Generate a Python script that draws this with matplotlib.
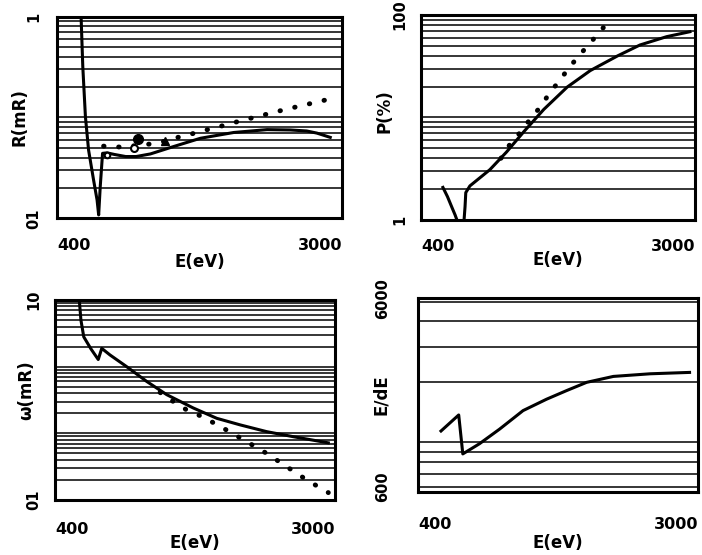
import numpy as np
import matplotlib.pyplot as plt
from matplotlib.ticker import LogLocator, NullFormatter, NullLocator, FixedLocator, FixedFormatter

plt.rcParams['font.family'] = 'DejaVu Sans'
plt.rcParams['font.weight'] = 'bold'

# --- datos ---
# R (mR)
r_solid_E = [474, 480, 489, 500, 518, 531, 537, 543, 552, 570, 600, 650, 700, 774, 912,
             1102, 1395, 1766, 2083, 2337, 2513, 2761]
r_solid_R = [1.05, 0.32, 0.102, 0.0476, 0.024, 0.0152, 0.0108, 0.0206, 0.0441, 0.0446, 0.043,
             0.041, 0.041, 0.0435, 0.0515, 0.0622, 0.071, 0.0758, 0.0752, 0.0735, 0.070, 0.0635]
r_dot_E = [556, 620, 720, 820, 930, 1024, 1125, 1240, 1360, 1568, 1985, 2667]
r_dot_R = [0.052, 0.051, 0.053, 0.056, 0.063, 0.068, 0.074, 0.080, 0.087, 0.098, 0.119, 0.149]
r_pts_E = [568, 687, 710, 859]
r_pts_R = [0.0425, 0.0495, 0.0608, 0.058]

# P (%)
p_solid_E = [470, 486, 501, 514, 521, 528, 545, 549, 553, 556, 573, 664, 750, 853, 987,
             1172, 1389, 1700, 2002, 2437, 2890]
p_solid_P = [2.08, 1.69, 1.35, 1.12, 1.0, 0.85, 0.85, 1.0, 1.35, 1.85, 2.15, 3.1, 4.6, 7.3, 12,
             19.8, 28.7, 40, 51, 61.5, 68.7]
p_dot_E = [720, 773, 843, 896, 963, 1037, 1102, 1172, 1245, 1340, 1460, 1571]
p_dot_P = [4.0, 5.6, 7.55, 9.8, 12.7, 17.9, 22.3, 29, 36.4, 47.3, 63.8, 83]

# omega (mR)
w_solid_E = [476, 482, 492, 518, 546, 560, 594, 670, 774, 894, 1082, 1281, 1515, 1835, 2224, 2859]
w_solid_W = [10.5, 5.0, 2.8, 1.85, 1.28, 1.88, 1.5, 1.0, 0.6, 0.38, 0.24, 0.168, 0.134, 0.106,
             0.089, 0.072]
w_dot_E = [852, 937, 1031, 1163, 1375, 1589, 1835, 2119, 2448, 2859]
w_dot_W = [0.41, 0.30, 0.225, 0.175, 0.112, 0.075, 0.050, 0.0316, 0.020, 0.0129]

# E/dE
res_E = [471, 535, 551, 621, 718, 850, 1006, 1162, 1343, 1628, 2121, 2817]
res_Y = [1140, 1370, 877, 985, 1165, 1440, 1640, 1810, 1990, 2130, 2195, 2230]

W, H = 702, 555
fig = plt.figure(figsize=(W / 100, H / 100), dpi=100)


def make_ax(l, r, t, b):
    return fig.add_axes([l / W, 1 - b / H, (r - l) / W, (b - t) / H])


def setup(ax, ylim, yticks, ylabels, ylabel, ylab_xy, ypad, xpad, xlab_y):
    ax.set_xscale('log')
    ax.set_yscale('log')
    ax.set_xlim(400, 3000)
    ax.set_ylim(*ylim)
    ax.set_axisbelow(True)
    ax.yaxis.set_minor_locator(LogLocator(base=10, subs=np.arange(1, 10)))
    ax.yaxis.set_minor_formatter(NullFormatter())
    ax.yaxis.set_major_locator(FixedLocator(yticks))
    ax.yaxis.set_major_formatter(FixedFormatter(ylabels))
    ax.xaxis.set_major_locator(FixedLocator([400, 3000]))
    ax.xaxis.set_major_formatter(FixedFormatter(['400', '3000']))
    ax.xaxis.set_minor_locator(NullLocator())
    ax.grid(True, which='both', axis='y', color='black', lw=1.1)
    ax.tick_params(which='both', length=0)
    ax.tick_params(axis='x', pad=xpad, labelsize=11.5)
    ax.tick_params(axis='y', labelrotation=90, pad=ypad, labelsize=10.5)
    for lab, ha in zip(ax.get_xticklabels(), ['left', 'right']):
        lab.set_horizontalalignment(ha)
    for lab in ax.get_yticklabels():
        lab.set_verticalalignment('center')
    for s in ax.spines.values():
        s.set_linewidth(2.2)
    ax.set_xlabel('E(eV)', fontsize=12, fontweight='bold')
    ax.xaxis.set_label_coords(0.5, xlab_y)
    ax.set_ylabel(ylabel, fontsize=12, fontweight='bold')
    ax.yaxis.set_label_coords(*ylab_xy)


dot = dict(color='black', lw=3.5, ls=(0, (0.1, 3.0)), dash_capstyle='round')
sol = dict(color='black', lw=2.2)

# R(mR)
ax1 = make_ax(57, 342, 16.7, 218.3)
setup(ax1, (0.01, 1), [0.01, 1], ['01', '1'], 'R(mR)', (-0.10, 0.5), 11, 14, -0.172)
ax1.plot(r_solid_E, r_solid_R, **sol)
ax1.plot(r_dot_E, r_dot_R, **dot)
ax1.plot(r_pts_E[0], r_pts_R[0], 'o', mfc='white', mec='black', ms=4, mew=1.5)
ax1.plot(r_pts_E[1], r_pts_R[1], 'o', mfc='white', mec='black', ms=5, mew=1.5)
ax1.plot(r_pts_E[2], r_pts_R[2], 'o', color='black', ms=7)
ax1.plot(r_pts_E[3], r_pts_R[3], '^', color='black', ms=6)

# P(%)
ax2 = make_ax(421, 695, 15, 220)
setup(ax2, (1, 100), [1, 100], ['1', '100'], 'P(%)', (-0.10, 0.53), 10, 14, -0.15)
ax2.plot(p_solid_E, p_solid_P, **sol)
ax2.plot(p_dot_E, p_dot_P, **dot)

# omega(mR)
ax3 = make_ax(55, 335, 300, 500)
setup(ax3, (0.01, 10), [0.01, 10], ['01', '10'], 'ω(mR)', (-0.07, 0.55), 10, 16, -0.17)
ax3.plot(w_solid_E, w_solid_W, **sol)
ax3.plot(w_dot_E, w_dot_W, **dot)

# E/dE
ax4 = make_ax(418.3, 698.3, 298.3, 491.7)
setup(ax4, (569, 5210), [600, 5210], ['600', '6000'], 'E/dE', (-0.10, 0.5), 20, 18, -0.22)
ax4.plot(res_E, res_Y, **sol)

fig.savefig('out.png', dpi=100)
